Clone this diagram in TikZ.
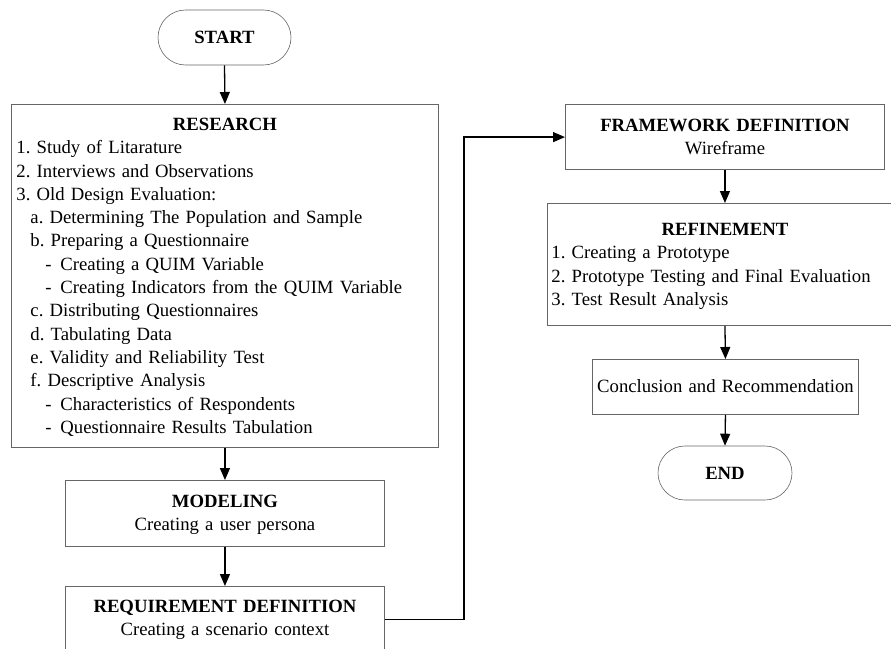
\documentclass[tikz,border=0pt]{standalone}
\usepackage{fontspec}
\setmainfont{Liberation Serif}
\usetikzlibrary{arrows.meta,shapes.misc}
\newcommand{\tst}[1]{\rule{0pt}{#1}}
\newcommand{\bst}[1]{\rule[-#1]{0pt}{#1}}
\newcommand{\subi}{\hspace*{14pt}}
\newcommand{\dashi}{\hspace*{29pt}\makebox[15pt][l]{-}}
\frenchspacing
\begin{document}
\begin{tikzpicture}[x=1pt,y=-1pt,
  every node/.style={font=\fontsize{18.7}{23.3}\selectfont},
  procbox/.style={draw=black!60, line width=0.9pt, inner ysep=0pt, anchor=north west},
  term/.style={draw=black!60, line width=0.6pt, rounded rectangle, inner sep=0pt, font=\fontsize{18.7}{23.3}\selectfont\bfseries},
  arr/.style={line width=1.3pt, black, -{Triangle[length=12pt,width=10pt]}}]
\clip (0,0) rectangle (891,648);
\fill[white] (0,0) rectangle (891,648);

\node[term, minimum width=133pt, minimum height=55pt] (start) at (224.5,37.5) {START};

\node[procbox, inner xsep=5pt, text width=417pt, align=left] (research) at (11,104) {%
\makebox[417pt][c]{\tst{26pt}\textbf{RESEARCH}}\\
1. Study of Litarature\\
2. Interviews and Observations\\
3. Old Design Evaluation:\\
\subi a. Determining The Population and Sample\\
\subi b. Preparing a Questionnaire\\
\dashi Creating a QUIM Variable\\
\dashi Creating Indicators from the QUIM Variable\\
\subi c. Distributing Questionnaires\\
\subi d. Tabulating Data\\
\subi e. Validity and Reliability Test\\
\subi f. Descriptive Analysis\\
\dashi Characteristics of Respondents\\
\dashi Questionnaire Results Tabulation\bst{14pt}};

\node[procbox, inner xsep=0pt, text width=319pt, align=center] (modeling) at (65,480) {%
\tst{27pt}\textbf{MODELING}\\Creating a user persona\bst{16pt}};

\node[procbox, inner xsep=0pt, text width=319pt, align=center] (req) at (65,586) {%
\tst{26pt}\textbf{REQUIREMENT DEFINITION}\\Creating a scenario context\bst{17pt}};

\node[procbox, inner xsep=0pt, text width=319pt, align=center] (fw) at (565,104) {%
\tst{27pt}\textbf{FRAMEWORK DEFINITION}\\Wireframe\bst{15pt}};

\node[procbox, inner xsep=4pt, text width=347pt, align=left] (refine) at (547,203) {%
\makebox[347pt][c]{\tst{32pt}\textbf{REFINEMENT}}\\
1. Creating a Prototype\\
2. Prototype Testing and Final Evaluation\\
3. Test Result Analysis\bst{20pt}};

\node[procbox, inner xsep=0pt, text width=266pt, align=center] (concl) at (592,359) {%
\tst{33pt}Conclusion and Recommendation\bst{22pt}};

\node[term, minimum width=134pt, minimum height=54pt] (end) at (725,473) {END};

\coordinate (turn) at (464,0);

\draw[arr] (start.south) -- (research.north);
\draw[arr] (research.south) -- (modeling.north);
\draw[arr] (modeling.south) -- (req.north);
\draw[arr] (req.east) -- (req.east -| turn) |- (fw.west);
\draw[arr] (fw.south) -- (fw.south |- refine.north);
\draw[arr] (refine.south -| fw.south) -- (concl.north);
\draw[arr] (concl.south) -- (end.north);
\end{tikzpicture}
\end{document}
